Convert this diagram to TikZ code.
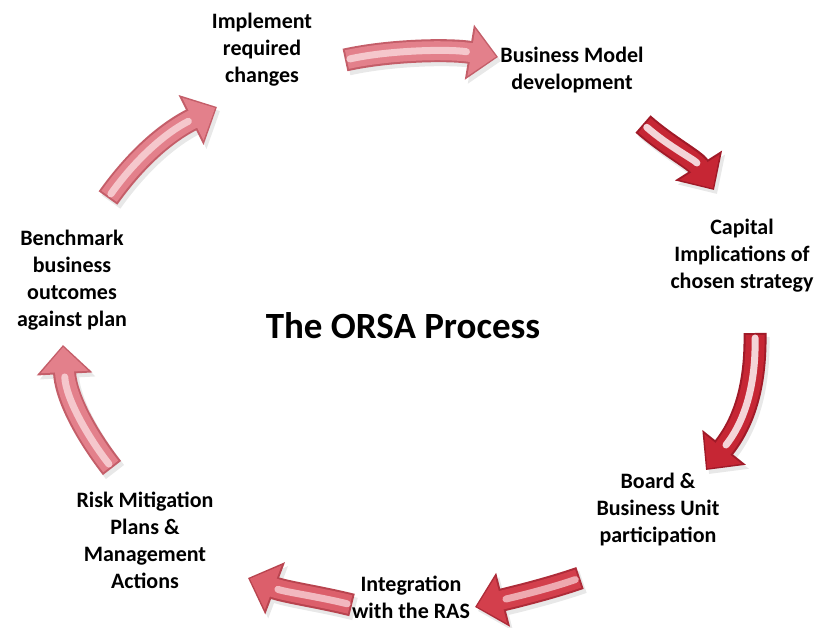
\documentclass[tikz,border=0pt]{standalone}
\usepackage{fontspec}
\setmainfont{Carlito}
\usetikzlibrary{arrows.meta}
\definecolor{redmain}{HTML}{C62634}
\definecolor{rededge}{HTML}{A01A28}
\definecolor{redhi}{HTML}{F4D4D8}
\definecolor{medmain}{HTML}{D33F4C}
\definecolor{mededge}{HTML}{AE2C39}
\definecolor{medhi}{HTML}{EEA9B0}
\definecolor{rosemain}{HTML}{DC5F6B}
\definecolor{roseedge}{HTML}{B8444F}
\definecolor{rosehi}{HTML}{F2B8BF}
\definecolor{pinkmain}{HTML}{E3808B}
\definecolor{pinkedge}{HTML}{C45E69}
\definecolor{pinkhi}{HTML}{F5C7CC}
\definecolor{shadowgray}{HTML}{E8E8E8}
\newcommand\orsaarrow[5]{%
  \draw[line width=23, draw=shadowgray, -{Triangle[width=54pt 0, length=29pt 0 0]}]
    ([shift={(3,4)}]#1) .. controls ([shift={(3,4)}]#2) and ([shift={(3,4)}]#3) .. ([shift={(3,4)}]#4);
  \draw[line width=23, draw=#5edge, -{Triangle[width=54pt 0, length=29pt 0 0]}]
    (#1) .. controls (#2) and (#3) .. (#4);
  \draw[line width=19, draw=#5main, shorten <=2, shorten >=2, -{Triangle[width=46pt 0, length=25pt 0 0]}]
    (#1) .. controls (#2) and (#3) .. (#4);
  \draw[line width=7, draw=#5hi, shorten <=5, shorten >=32, line cap=round]
    (#1) .. controls (#2) and (#3) .. (#4);
}
\tikzset{
  lbl/.style={align=center, inner sep=0pt, font=\fontsize{22}{27}\selectfont\bfseries},
}
\begin{document}
\begin{tikzpicture}[x=1pt, y=-1pt]
\useasboundingbox (0,0) rectangle (823,628);
% arrow coordinates
\coordinate (a1s) at (345,60); \coordinate (a1c) at (390,50); \coordinate (a1d) at (450,49); \coordinate (a1t) at (498,57);
\coordinate (a2s) at (643,124); \coordinate (a2c) at (668,146); \coordinate (a2d) at (695,160); \coordinate (a2t) at (714,190);
\coordinate (a3s) at (755,333); \coordinate (a3c) at (756,390); \coordinate (a3d) at (742,425); \coordinate (a3t) at (706,470);
\coordinate (a4s) at (580,578); \coordinate (a4c) at (545,590); \coordinate (a4d) at (510,598); \coordinate (a4t) at (475,607);
\coordinate (a5s) at (352,605); \coordinate (a5c) at (320,597); \coordinate (a5d) at (285,592); \coordinate (a5t) at (248,578);
\coordinate (a6s) at (112,468); \coordinate (a6c) at (90,440); \coordinate (a6d) at (66,400); \coordinate (a6t) at (63,345);
\coordinate (a7s) at (108,198); \coordinate (a7c) at (135,160); \coordinate (a7d) at (165,133); \coordinate (a7t) at (217,107);

\orsaarrow{a1s}{a1c}{a1d}{a1t}{pink}
\orsaarrow{a2s}{a2c}{a2d}{a2t}{red}
\orsaarrow{a3s}{a3c}{a3d}{a3t}{red}
\orsaarrow{a4s}{a4c}{a4d}{a4t}{med}
\orsaarrow{a5s}{a5c}{a5d}{a5t}{rose}
\orsaarrow{a6s}{a6c}{a6d}{a6t}{pink}
\orsaarrow{a7s}{a7c}{a7d}{a7t}{pink}

% labels
\node[lbl] (impl) at (262,50) {Implement\\required\\changes};
\node[lbl] (bmd) at (572,70) {Business Model\\development};
\node[lbl] (cap) at (742,256) {Capital\\Implications of\\chosen strategy};
\node[lbl] (board) at (658,510) {Board \&\\Business Unit\\participation};
\node[lbl] (ras) at (411,597) {Integration\\with the RAS};
\node[lbl] (risk) at (145,540) {Risk Mitigation\\Plans \&\\Management\\Actions};
\node[lbl] (bench) at (72,280) {Benchmark\\business\\outcomes\\against plan};
\node[font=\fontsize{37}{44}\selectfont\bfseries] (title) at (403,326) {The ORSA Process};
\end{tikzpicture}
\end{document}
